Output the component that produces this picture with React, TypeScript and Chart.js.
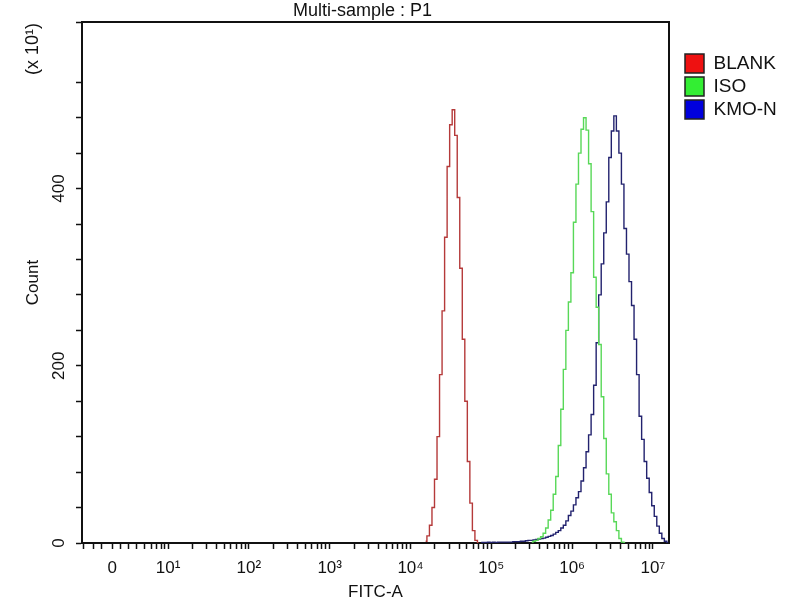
import { useEffect, useRef } from 'react'
import Chart from 'chart.js/auto'

// FITC-A histogram, 32 channels per decade. Axis unit is one decade:
// 10^1 sits at 1, 10^2 at 2 ... and the "0" of the biexponential display near 0.31
const binsPerDecade = 32

const seriesNames = ['BLANK', 'ISO', 'KMO-N']

// counts are in units of 10 (the axis says x 10^1)
const blankStartBin = 134
const blankCounts = [2, 8, 20, 40, 72, 120, 190, 262, 345, 425, 472, 489, 460, 390, 310, 230, 160, 92, 45, 14, 3, 0]

const isoStartBin = 176
const isoCounts = [
  1, 2, 3, 5, 7, 11, 17, 26, 37, 55, 75, 110, 151, 196, 240, 272, 305, 362, 405, 440,
  467, 480, 466, 428, 374, 300, 266, 224, 165, 118, 78, 55, 34, 24, 14, 5, 1, 0,
]

const kmoStartBin = 156
const kmoCounts = [
  0.5, 0.5, 0.5, 1, 0.5, 1, 0.5, 1, 1, 1,
  1, 1, 1, 1.5, 1.5, 1.5, 2, 2, 2.5, 3,
  3, 3.5, 4, 4.5, 5, 5.5, 6.5, 7.5, 8.5, 10,
  12, 14, 17, 20, 25, 31, 36, 43, 51, 58,
  70, 85, 103, 122, 145, 178, 226, 280, 315, 350,
  385, 435, 465, 482, 465, 440, 405, 355, 326, 295,
  268, 230, 190, 143, 117, 92, 73, 57, 42, 30,
  19, 11, 5, 2, 0,
]

// x axis (decade units)
const xMin = -0.064
const xMax = 7.198
const majorTickValues = [0.31, 1, 2, 3, 4, 5, 6, 7]
const majorTickLabels = ['0', '10¹', '10²', '10³', '10⁴', '10⁵', '10⁶', '10⁷']
const linearRegionTicks = [-0.05, 0.08, 0.18, 0.41, 0.51, 0.61, 0.71, 0.8, 0.86, 0.92, 0.96]

// y axis
const yMax = 588
const yStep = 40
const yLabelEvery = 200

const chartTitle = 'Multi-sample : P1'
const xTitle = 'FITC-A'
const yTitle = 'Count'
const yMultiplier = '(x 10¹)'

const lineColors = ['#b53a3a', '#58d858', '#22226e']
const boxColors = ['#ee1111', '#33ee33', '#0000dd']
const FONT = '"Liberation Sans", Arial, sans-serif'

function buildXTicks() {
  const ticks = [...linearRegionTicks, ...majorTickValues]
  for (let d = 1; d < 8; d++) {
    for (let m = 2; m <= 9; m++) ticks.push(d + Math.log10(m))
  }
  return ticks.filter(v => v >= xMin && v <= xMax).sort((a, b) => a - b)
}

function xLabel(value: number) {
  const i = majorTickValues.findIndex(v => Math.abs(v - value) < 1e-6)
  return i >= 0 ? majorTickLabels[i] : ''
}

const frameAndNotes = {
  id: 'frameAndNotes',
  beforeDatasetsDraw(chart: Chart) {
    const { ctx, chartArea } = chart
    ctx.save()
    ctx.strokeStyle = '#111'
    ctx.lineWidth = 2
    ctx.beginPath()
    ctx.moveTo(chartArea.left, chartArea.top)
    ctx.lineTo(chartArea.right, chartArea.top)
    ctx.lineTo(chartArea.right, chartArea.bottom)
    ctx.stroke()
    ctx.restore()
  },
  afterDraw(chart: Chart) {
    const { ctx, chartArea } = chart
    ctx.save()
    ctx.fillStyle = '#111'
    ctx.font = `18px ${FONT}`
    ctx.textAlign = 'center'
    ctx.textBaseline = 'alphabetic'
    ctx.fillText(chartTitle, (chartArea.left + chartArea.right) / 2 - 13, 15.5)

    ctx.textBaseline = 'middle'
    ctx.translate(chart.scales.y.left + 33, chartArea.top + 27)
    ctx.rotate(-Math.PI / 2)
    ctx.fillText(yMultiplier, 0, 0)
    ctx.restore()
  },
}

const Histogram = () => {
  const canvasRef = useRef<HTMLCanvasElement>(null)

  useEffect(() => {
    if (!canvasRef.current) return

    const toPoints = (start: number, counts: number[]) =>
      counts.map((c, i) => ({ x: (start + i) / binsPerDecade, y: c }))

    const series = [
      toPoints(blankStartBin, blankCounts),
      toPoints(isoStartBin, isoCounts),
      toPoints(kmoStartBin, kmoCounts),
    ]

    const chart = new Chart(canvasRef.current, {
      type: 'line',
      data: {
        datasets: series.map((points, i) => ({
          label: seriesNames[i],
          data: points,
          borderColor: lineColors[i],
          backgroundColor: boxColors[i],
          borderWidth: 1.4,
          pointRadius: 0,
          stepped: 'middle' as const,
          fill: false,
        })),
      },
      options: {
        animation: false,
        responsive: true,
        maintainAspectRatio: false,
        events: [],
        layout: { padding: { top: 22, left: 0, bottom: 0, right: 19 } },
        plugins: {
          tooltip: { enabled: false },
          legend: {
            position: 'right',
            align: 'start',
            fullSize: false,
            maxWidth: 100,
            title: { display: true, text: ' ', font: { size: 10 }, padding: { top: 16, bottom: 0 } },
            labels: {
              boxWidth: 19,
              boxHeight: 19,
              padding: 4,
              color: '#111',
              font: { size: 19, family: FONT },
              generateLabels: () =>
                seriesNames.map((name, i) => ({
                  text: name,
                  fillStyle: boxColors[i],
                  strokeStyle: '#222',
                  fontColor: '#111',
                  lineWidth: 1.5,
                  hidden: false,
                  datasetIndex: i,
                })),
            },
          },
        },
        scales: {
          x: {
            type: 'linear',
            min: xMin,
            max: xMax,
            afterBuildTicks: scale => {
              scale.ticks = buildXTicks().map(value => ({ value }))
            },
            afterFit: scale => {
              scale.height = 57
            },
            ticks: {
              autoSkip: false,
              maxRotation: 0,
              minRotation: 0,
              padding: 9,
              color: '#111',
              font: { size: 17, family: FONT },
              callback: value => xLabel(Number(value)),
            },
            grid: { drawOnChartArea: false, drawTicks: true, tickLength: 6, tickColor: '#111', tickWidth: 1.5 },
            border: { display: true, color: '#111', width: 2 },
            title: {
              display: true,
              text: xTitle,
              color: '#111',
              font: { size: 17, family: FONT },
              padding: { top: 0, bottom: -3 },
            },
          },
          y: {
            type: 'linear',
            min: 0,
            max: yMax,
            afterFit: scale => {
              scale.width = 82
            },
            ticks: {
              stepSize: yStep,
              autoSkip: false,
              minRotation: 90,
              maxRotation: 90,
              crossAlign: 'center',
              padding: 3,
              color: '#111',
              font: { size: 17, family: FONT },
              callback: value => (Number(value) % yLabelEvery === 0 ? String(value) : ''),
            },
            grid: { drawOnChartArea: false, drawTicks: true, tickLength: 6, tickColor: '#111', tickWidth: 1.5 },
            border: { display: true, color: '#111', width: 2 },
            title: {
              display: true,
              text: yTitle,
              color: '#111',
              font: { size: 17, family: FONT },
              padding: { top: 23, bottom: 0 },
            },
          },
          // empty spacer between the plot frame and the legend
          gap: {
            type: 'linear',
            position: 'right',
            display: true,
            afterFit: scale => {
              scale.width = 12
            },
            ticks: { display: false },
            grid: { display: false },
            border: { display: false },
          },
        },
      },
      plugins: [frameAndNotes],
    })

    return () => {
      chart.destroy()
    }
  }, [])

  return (
    <div style={{ position: 'fixed', left: 0, top: 0, width: 800, height: 600, background: '#fff' }}>
      <canvas ref={canvasRef}></canvas>
    </div>
  )
}

export default function App() {
  return <Histogram />
}
